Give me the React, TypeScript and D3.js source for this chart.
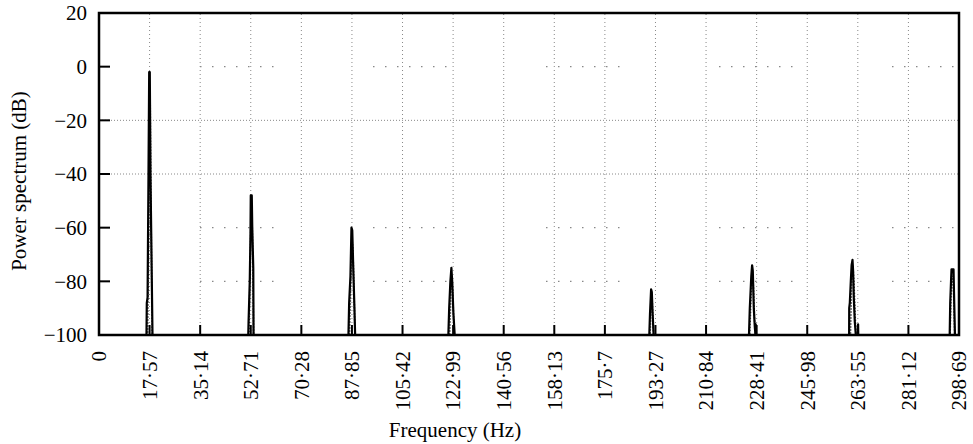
import React from "react";
import * as d3 from "d3";

const X_TICKS = [0, 17.57, 35.14, 52.71, 70.28, 87.85, 105.42, 122.99, 140.56, 158.13, 175.7, 193.27, 210.84, 228.41, 245.98, 263.55, 281.12, 298.69];
const X_TICK_LABELS = ["0", "17·57", "35·14", "52·71", "70·28", "87·85", "105·42", "122·99", "140·56", "158·13", "175·7", "193·27", "210·84", "228·41", "245·98", "263·55", "281·12", "298·69"];
const Y_TICKS = [20, 0, -20, -40, -60, -80, -100];
const Y_TICK_LABELS = ["20", "0", "\u221220", "\u221240", "\u221260", "\u221280", "\u2212100"];
const DENSE_GRID = [-20, -40];
const SPARSE_GRID = [0, -60, -80];

// Series A (solid) – spectrum estimate
const A_FREQ = [
  0, 16.49, 16.6, 16.87, 17.19, 17.43, 17.64, 17.88, 18.23, 18.58,
  51.84, 51.95, 52.36, 52.61, 52.71, 53.06, 53.23, 53.58, 53.68,
  86.64, 86.88, 87.33, 87.68, 87.96, 88.31, 88.72, 88.96,
  121.34, 121.62, 122.04, 122.39, 122.67, 123.09, 123.54,
  191.13, 191.37, 191.75, 192.0, 192.28, 192.63,
  225.75, 226.03, 226.55, 226.83, 227.07, 227.42, 227.77, 228.0, 228.1, 228.2, 228.29,
  260.53, 260.56, 260.77, 261.11, 261.39, 261.7, 261.91, 262.15, 262.5, 262.85, 263.6, 263.65, 263.7,
  295.46, 295.64, 295.92, 296.09, 296.79, 297.03, 297.28, 298.69,
];
const A_DB = [
  -100, -100, -88, -86, -40, -2, -2, -40, -70, -100,
  -100, -95, -80, -62, -48, -48, -60, -75, -100,
  -100, -88, -78, -60, -61, -75, -90, -100,
  -100, -90, -80, -75, -80, -92, -100,
  -100, -92, -83, -84, -92, -100,
  -100, -90, -78, -74, -76, -90, -97, -100, -96, -100, -100,
  -100, -90, -88, -80, -74, -72, -76, -86, -95, -100, -100, -96, -100,
  -100, -88, -80, -75.5, -75.5, -88, -100, -100,
];

// Series B (dotted) – second estimate
const B_FREQ = [
  0, 16.9, 17.3, 17.55, 17.75, 18.0, 18.3, 18.5,
  52.1, 52.5, 52.8, 53.1, 53.4, 53.7,
  87.0, 87.5, 87.85, 88.2, 88.6, 88.9,
  121.8, 122.2, 122.5, 122.8, 123.2, 123.4,
  191.4, 191.8, 192.1, 192.4, 192.6,
  226.0, 226.5, 226.9, 227.3, 227.7, 228.0,
  261.0, 261.4, 261.8, 262.2, 262.6, 262.9,
  295.6, 295.9, 296.3, 296.7, 297.0, 297.2, 298.69,
];
const B_DB = [
  -100, -100, -60, -10, -8, -45, -80, -100,
  -100, -75, -55, -52, -70, -100,
  -100, -78, -64, -68, -85, -100,
  -100, -85, -78, -82, -95, -100,
  -100, -88, -86, -95, -100,
  -100, -85, -77, -82, -95, -100,
  -100, -82, -74, -80, -92, -100,
  -100, -86, -78, -80, -92, -100, -100,
];

const W = 973;
const H = 444;
const M = { left: 99, right: 959, top: 13, bottom: 335 };
const CSS = `.serif-chart text { font-family: "Liberation Serif", "Times New Roman", Tinos, FreeSerif !important; font-size: 21px; }`;

export default function App() {
  const x = d3.scaleLinear().domain([0, 298.69]).range([M.left, M.right]);
  const y = d3.scaleLinear().domain([-100, 20]).range([M.bottom, M.top]);

  const line = d3
    .line<[number, number]>()
    .x((d) => x(d[0]))
    .y((d) => y(d[1]));

  const aPts: [number, number][] = A_FREQ.map((f, i) => [f, A_DB[i]]);
  const bPts: [number, number][] = B_FREQ.map((f, i) => [f, B_DB[i]]);

  return (
    <svg
      className="serif-chart"
      width={W}
      height={H}
      style={{ position: "absolute", left: 0, top: 0 }}
    >
      <style>{CSS}</style>
      <defs>
        <clipPath id="plot">
          <rect x={M.left} y={M.top} width={M.right - M.left} height={M.bottom - M.top} />
        </clipPath>
      </defs>
      <rect x={0} y={0} width={W} height={H} fill="#fff" />

      {/* vertical grid */}
      {X_TICKS.slice(1).map((t, i) => (
        <line
          key={"vg" + i}
          x1={x(t)}
          x2={x(t)}
          y1={M.bottom}
          y2={M.top}
          stroke="#888"
          strokeWidth={1}
          strokeDasharray="1,3"
        />
      ))}
      {/* horizontal grid */}
      {DENSE_GRID.map((t, i) => (
        <line
          key={"hd" + i}
          x1={M.left}
          x2={M.right}
          y1={y(t)}
          y2={y(t)}
          stroke="#888"
          strokeWidth={1}
          strokeDasharray="1,2"
        />
      ))}
      {SPARSE_GRID.map((t, i) => (
        <line
          key={"hs" + i}
          x1={M.left}
          x2={M.right}
          y1={y(t)}
          y2={y(t)}
          stroke="#888"
          strokeWidth={1.2}
          strokeDasharray="1.5,10.5,1.5,10.5,1.5,10.5,1.5,10.5,1.5,10.5,1.5,10.5,1.5,99.5"
          strokeDashoffset={72}
        />
      ))}

      {/* spectra */}
      <g clipPath="url(#plot)">
        <path d={line(bPts) || ""} fill="none" stroke="#444" strokeWidth={1.6} strokeDasharray="1.5,1.5" />
        <path d={line(aPts) || ""} fill="none" stroke="#000" strokeWidth={2.2} strokeLinejoin="round" />
      </g>

      {/* frame */}
      <rect
        x={M.left}
        y={M.top}
        width={M.right - M.left}
        height={M.bottom - M.top}
        fill="none"
        stroke="#000"
        strokeWidth={2.5}
      />

      {/* y ticks */}
      {Y_TICKS.map((t, i) => (
        <g key={"yt" + i}>
          <line x1={M.left} x2={M.left + 11} y1={y(t)} y2={y(t)} stroke="#000" strokeWidth={2} />
          <text
            x={87}
            y={y(t)}
            dy="0.35em"
            textAnchor="end"
            fontFamily="Liberation Serif"
            fontSize={21}
          >
            {Y_TICK_LABELS[i]}
          </text>
        </g>
      ))}

      {/* x ticks */}
      {X_TICKS.map((t, i) => (
        <g key={"xt" + i}>
          {i > 0 && i < X_TICKS.length - 1 && (
            <line x1={x(t)} x2={x(t)} y1={M.bottom} y2={M.bottom - 10} stroke="#000" strokeWidth={2} />
          )}
          <text
            transform={`translate(${x(t)},${351}) rotate(-90)`}
            dy="0.35em"
            textAnchor="end"
            fontFamily="Liberation Serif"
            fontSize={21}
          >
            {X_TICK_LABELS[i]}
          </text>
        </g>
      ))}

      {/* axis titles */}
      <text x={455} y={437} textAnchor="middle" fontFamily="Liberation Serif" fontSize={21}>
        Frequency (Hz)
      </text>
      <text
        transform={`translate(26,${181}) rotate(-90)`}
        textAnchor="middle"
        fontFamily="Liberation Serif"
        fontSize={21}
      >
        Power spectrum (dB)
      </text>
    </svg>
  );
}
